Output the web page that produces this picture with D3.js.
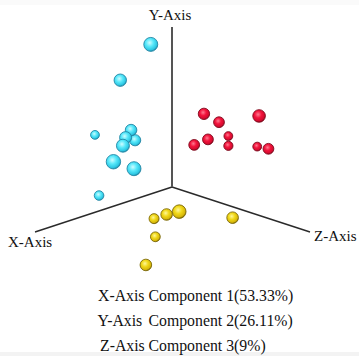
<!DOCTYPE html>
<html>
<head>
<meta charset="utf-8">
<script src="https://cdn.jsdelivr.net/npm/d3@7"></script>
<style>
  html, body { margin: 0; padding: 0; background: #fff; }
  svg { display: block; }
  text { font-family: "Liberation Serif", "Times New Roman", serif; fill: #111; }
</style>
</head>
<body>
<div id="chart"></div>
<script>
// PCA scores of the three sample groups (components 1, 2, 3)
const groups = ["cyan", "red", "yellow"];

const cyanPC1 = [0.86, 0.71, 0.27, 0.46, 0.51, 0.38, 0.61, 0.77, 0.63, 0.20];
const cyanPC2 = [1.33, 0.96, 0.32, 0.53, 0.50, 0.43, 0.50, 0.47, 0.39, -0.09];
const cyanPC3 = [0.70, 0.33, -0.29, 0.16, 0.17, 0.11, 0.25, 0.34, 0.35, -0.33];

const redPC1 = [0.21, 0.07, 0.14, 0.11, 0.07, -0.22, -0.20, -0.35, -0.17];
const redPC2 = [0.64, 0.54, 0.70, 0.37, 0.41, 0.31, 0.26, 0.23, 0.34];
const redPC3 = [0.44, 0.41, 0.77, 0.27, 0.33, 0.19, 0.21, 0.27, 0.53];

const yellowPC1 = [-0.01, 0.13, 0.32, -0.11, -0.08, 0.09];
const yellowPC2 = [-0.24, -0.11, 0.04, -0.13, -0.39, -0.49];
const yellowPC3 = [-0.14, 0.09, 0.37, 0.33, -0.20, -0.10];

const axisNames = ["X-Axis", "Y-Axis", "Z-Axis"];
const componentLabels = ["Component 1(53.33%)", "Component 2(26.11%)", "Component 3(9%)"];

const W = 359, H = 356;
const origin = [172, 187];
const xEnd = [35, 232], yEnd = [172, 27], zEnd = [310, 232];

// each axis maps a score onto the projected 2D plane
const xAxisScale = d3.scaleLinear().domain([0, 1]).range([[0, 0], [xEnd[0] - origin[0], xEnd[1] - origin[1]]]);
const yAxisScale = d3.scaleLinear().domain([0, 1]).range([[0, 0], [yEnd[0] - origin[0], yEnd[1] - origin[1]]]);
const zAxisScale = d3.scaleLinear().domain([0, 1]).range([[0, 0], [zEnd[0] - origin[0], zEnd[1] - origin[1]]]);
// depth toward the viewer controls the sphere size
const depthOf = (a, b, c) => 108 * a - 67 * b + 108 * c;
const radiusScale = d3.scaleLinear().domain([0, 40]).range([5, 6]);

function project(a, b, c) {
  const px = xAxisScale(a), py = yAxisScale(b), pz = zAxisScale(c);
  return [origin[0] + px[0] + py[0] + pz[0], origin[1] + px[1] + py[1] + pz[1]];
}

const series = {
  cyan: [cyanPC1, cyanPC2, cyanPC3],
  red: [redPC1, redPC2, redPC3],
  yellow: [yellowPC1, yellowPC2, yellowPC3]
};

const points = [];
groups.forEach(g => {
  const [p1, p2, p3] = series[g];
  p1.forEach((v, i) => {
    const pos = project(p1[i], p2[i], p3[i]);
    points.push({ group: g, x: pos[0], y: pos[1], depth: depthOf(p1[i], p2[i], p3[i]) });
  });
});
points.sort((p, q) => p.depth - q.depth);

const palette = {
  cyan:   { hi: "#cffcff", mid: "#58e8fa", lo: "#2cc6e2", edge: "#2388a6" },
  red:    { hi: "#ff7a90", mid: "#f2143c", lo: "#d30a2e", edge: "#820a1e" },
  yellow: { hi: "#fff79a", mid: "#f0d818", lo: "#d6b60a", edge: "#7e6a06" }
};

const svg = d3.select("#chart").append("svg").attr("width", W).attr("height", H);

// faint bands at the top and bottom edges
svg.append("rect").attr("x", 0).attr("y", 0).attr("width", W).attr("height", 5).attr("fill", "#fafafa");
svg.append("rect").attr("x", 0).attr("y", 352).attr("width", W).attr("height", 4).attr("fill", "#f3f3f3");

const defs = svg.append("defs");
groups.forEach(g => {
  const c = palette[g];
  const grad = defs.append("radialGradient").attr("id", "ball-" + g)
    .attr("cx", "42%").attr("cy", "38%").attr("r", "62%");
  grad.append("stop").attr("offset", "0%").attr("stop-color", c.hi);
  grad.append("stop").attr("offset", "45%").attr("stop-color", c.mid);
  grad.append("stop").attr("offset", "85%").attr("stop-color", c.lo);
  grad.append("stop").attr("offset", "100%").attr("stop-color", c.edge);
});

// axes
const o = project(0, 0, 0);
const axisLines = [
  { end: project(1, 0, 0), color: "#2a2a2a", width: 1.4 },
  { end: project(0, 0, 1), color: "#2a2a2a", width: 1.4 },
  { end: project(0, 1, 0), color: "#555", width: 2 }
];
svg.selectAll("line.axis").data(axisLines).enter().append("line")
  .attr("class", "axis")
  .attr("x1", o[0]).attr("y1", o[1])
  .attr("x2", d => d.end[0]).attr("y2", d => d.end[1])
  .attr("stroke", d => d.color).attr("stroke-width", d => d.width);

// axis titles
svg.append("text").attr("x", 170).attr("y", 20).attr("text-anchor", "middle")
  .attr("font-size", 15).text(axisNames[1]);
svg.append("text").attr("x", 8).attr("y", 247).attr("font-size", 15).text(axisNames[0]);
svg.append("text").attr("x", 314).attr("y", 241).attr("font-size", 15).text(axisNames[2]);

// spheres
svg.selectAll("circle.pt").data(points).enter().append("circle")
  .attr("class", "pt")
  .attr("cx", d => d.x).attr("cy", d => d.y)
  .attr("r", d => radiusScale(d.depth))
  .attr("fill", d => "url(#ball-" + d.group + ")")
  .attr("stroke", d => palette[d.group].edge)
  .attr("stroke-width", 1)
  .attr("stroke-opacity", 0.9);

// variance explained per component
const rows = [
  { name: axisNames[0], label: componentLabels[0], x: 98, y: 300.5 },
  { name: axisNames[1], label: componentLabels[1], x: 97.5, y: 326 },
  { name: axisNames[2], label: componentLabels[2], x: 100, y: 350.5 }
];
const legend = svg.append("g");
legend.selectAll("text.name").data(rows).enter().append("text")
  .attr("class", "name").attr("x", d => d.x).attr("y", d => d.y)
  .attr("font-size", 15.8).text(d => d.name);
legend.selectAll("text.comp").data(rows).enter().append("text")
  .attr("class", "comp").attr("x", 148.5).attr("y", d => d.y)
  .attr("font-size", 15.8).text(d => d.label);
</script>
</body>
</html>
